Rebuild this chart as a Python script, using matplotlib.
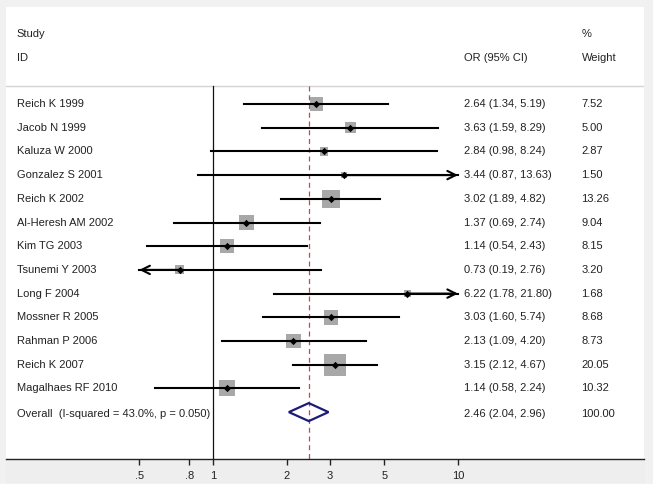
import numpy as np
import matplotlib.pyplot as plt
from matplotlib.patches import Polygon, Rectangle

plt.rcParams['font.family'] = ['Liberation Sans', 'DejaVu Sans']

# Datos de los estudios
studies = ["Reich K 1999", "Jacob N 1999", "Kaluza W 2000", "Gonzalez S 2001",
           "Reich K 2002", "Al-Heresh AM 2002", "Kim TG 2003", "Tsunemi Y 2003",
           "Long F 2004", "Mossner R 2005", "Rahman P 2006", "Reich K 2007",
           "Magalhaes RF 2010"]
or_est = [2.64, 3.63, 2.84, 3.44, 3.02, 1.37, 1.14, 0.73, 6.22, 3.03, 2.13, 3.15, 1.14]
ci_lo = [1.34, 1.59, 0.98, 0.87, 1.89, 0.69, 0.54, 0.19, 1.78, 1.60, 1.09, 2.12, 0.58]
ci_hi = [5.19, 8.29, 8.24, 13.63, 4.82, 2.74, 2.43, 2.76, 21.80, 5.74, 4.20, 4.67, 2.24]
weights = [7.52, 5.00, 2.87, 1.50, 13.26, 9.04, 8.15, 3.20, 1.68, 8.68, 8.73, 20.05, 10.32]

overall_label = "Overall  (I-squared = 43.0%, p = 0.050)"
overall = (2.46, 2.04, 2.96)
overall_weight = 100.00

ticks = [0.5, 0.8, 1, 2, 3, 5, 10]
tick_labels = [".5", ".8", "1", "2", "3", "5", "10"]
clip_lo, clip_hi = 0.5, 10

W, H = 653, 490
fig = plt.figure(figsize=(W / 100, H / 100), dpi=100, facecolor="#f1f1f1")

# Franja gris bajo el eje y borde inferior blanco
fig.patches.append(Rectangle((6 / W, 6 / H), 638 / W, 25 / H, transform=fig.transFigure,
                             color="#eeeeee", zorder=-2))
fig.patches.append(Rectangle((0, 0), 1, 6 / H, transform=fig.transFigure,
                             color="white", zorder=-2))

ax = fig.add_axes([6 / W, (H - 459) / H, 638 / W, (459 - 7) / H])
ax.set_facecolor("white")
ax.set_xscale("log")
px_dec = 245.0
ax.set_xlim(10 ** ((6 - 213) / px_dec), 10 ** ((644 - 213) / px_dec))
row_px = 23.7
def row_of(py):
    return (py - 104) / row_px
ax.set_ylim(row_of(459), row_of(7))

for s in ["top", "left", "right"]:
    ax.spines[s].set_visible(False)
ax.spines["bottom"].set_color("#222222")
ax.spines["bottom"].set_linewidth(1.0)
ax.set_xticks(ticks)
ax.set_xticklabels(tick_labels)
ax.xaxis.set_minor_locator(plt.NullLocator())
ax.tick_params(axis="x", length=4.5, width=1.0, color="#222222", pad=4,
               labelsize=8, labelcolor="#222222")
ax.set_yticks([])

txt = dict(fontsize=8, color="#222222", va="center", transform=ax.get_yaxis_transform())
x_name, x_or, x_w = 0.017, 0.718, 0.902

# Cabeceras
ax.text(x_name, row_of(34), "Study", **txt)
ax.text(x_name, row_of(58), "ID", **txt)
ax.text(x_or, row_of(58), "OR (95% CI)", **txt)
ax.text(x_w, row_of(34), "%", **txt)
ax.text(x_w, row_of(58), "Weight", **txt)
ax.axhline(row_of(86), color="#d4d4d4", lw=1.0)

n = len(studies)
rows = np.arange(n)

# Línea de no efecto y línea del efecto global
ax.plot([1, 1], [row_of(86), row_of(459)], color="#111111", lw=0.9, zorder=2)
ax.plot([overall[0]] * 2, [row_of(86), row_of(459)], color="#c04858", lw=0.9,
        dashes=(4, 3), zorder=2)

for i in range(n):
    lo = max(ci_lo[i], clip_lo)
    hi = min(ci_hi[i], clip_hi)
    ax.plot([lo, hi], [rows[i], rows[i]], color="black", lw=1.5, zorder=3)
    if ci_hi[i] > clip_hi:
        ax.annotate("", xy=(clip_hi, rows[i]), xytext=(or_est[i], rows[i]),
                    arrowprops=dict(arrowstyle="->", lw=1.5, color="black",
                                    mutation_scale=15, shrinkA=0, shrinkB=0), zorder=3)
    if ci_lo[i] < clip_lo:
        ax.annotate("", xy=(clip_lo, rows[i]), xytext=(or_est[i], rows[i]),
                    arrowprops=dict(arrowstyle="->", lw=1.5, color="black",
                                    mutation_scale=15, shrinkA=0, shrinkB=0), zorder=3)
    ax.text(x_name, rows[i], studies[i], **txt)
    ax.text(x_or, rows[i], f"{or_est[i]:.2f} ({ci_lo[i]:.2f}, {ci_hi[i]:.2f})", **txt)
    ax.text(x_w, rows[i], f"{weights[i]:.2f}", **txt)

# Cuadros proporcionales al peso
sizes = (3.55 * np.sqrt(weights)) ** 2
ax.scatter(or_est, rows, s=sizes, marker="s", color="#a8a8a8", zorder=2.5, linewidths=0)
ax.scatter(or_est, rows, s=14, marker="D", color="black", zorder=4, linewidths=0)

# Diamante global
r = n
half_h = 9 / row_px
diam = Polygon([[overall[1], r], [overall[0], r - half_h], [overall[2], r], [overall[0], r + half_h]],
               closed=True, fill=False, edgecolor="#1c1c78", lw=1.6, zorder=4)
ax.add_patch(diam)
ax.text(x_name, r + 0.08, overall_label, **txt)
ax.text(x_or, r + 0.08, f"{overall[0]:.2f} ({overall[1]:.2f}, {overall[2]:.2f})", **txt)
ax.text(x_w, r + 0.08, f"{overall_weight:.2f}", **txt)

plt.savefig("out.png", dpi=100, facecolor=fig.get_facecolor())
